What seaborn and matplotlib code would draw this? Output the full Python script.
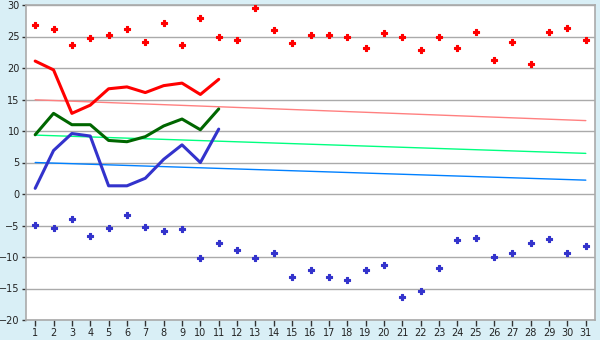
import numpy as np
import pandas as pd
import matplotlib
matplotlib.use("Agg")
import matplotlib.pyplot as plt
import seaborn as sns

days = list(range(1, 32))
max_points = [26.8, 26.2, 23.6, 24.7, 25.2, 26.2, 24.2, 27.2, 23.6, 28.0,
              25.0, 24.5, 29.6, 26.0, 23.9, 25.3, 25.3, 24.9, 23.1, 25.5,
              24.9, 22.8, 25.0, 23.1, 25.7, 21.2, 24.1, 20.7, 25.7, 26.3, 24.5]
min_points = [-4.9, -5.4, -4.0, -6.7, -5.4, -3.4, -5.3, -5.9, -5.6, -10.2,
              -7.7, -8.9, -10.2, -9.4, -13.1, -12.1, -13.2, -13.7, -12.1, -11.3,
              -16.4, -15.4, -11.8, -7.3, -7.0, -10.0, -9.4, -7.7, -7.2, -9.4, -8.3]
line_days = list(range(1, 12))
max_line = [21.1, 19.7, 12.8, 14.1, 16.7, 17.0, 16.1, 17.2, 17.6, 15.8, 18.2]
mean_line = [9.4, 12.8, 11.0, 11.0, 8.5, 8.3, 9.1, 10.8, 11.9, 10.2, 13.5]
min_line = [0.9, 6.9, 9.6, 9.2, 1.3, 1.3, 2.5, 5.5, 7.8, 5.0, 10.3]
trend_days = [1, 31]
trend_max = [14.95, 11.65]
trend_mean = [9.35, 6.45]
trend_min = [5.0, 2.2]
y_ticks = list(range(-20, 31, 5))

sns.set_theme(style="white")
plt.rcParams['font.family'] = ['DejaVu Sans']

bg = '#d9eff6'
fig = plt.figure(figsize=(6, 3.4), dpi=100, facecolor=bg)
ax = fig.add_axes([26/600, 1-320/340, (595-26)/600, (320-5)/340])
ax.set_facecolor('white')

for yv in y_ticks:
    ax.axhline(yv, color='#aaaaaa', lw=1, zorder=0)

sns.lineplot(x=trend_days, y=trend_max, color='#ff8080', lw=1, ax=ax)
sns.lineplot(x=trend_days, y=trend_mean, color='#00ff80', lw=1, ax=ax)
sns.lineplot(x=trend_days, y=trend_min, color='#0080ff', lw=1, ax=ax)

sns.lineplot(x=line_days, y=max_line, color='#ff0000', lw=2.2, ax=ax)
sns.lineplot(x=line_days, y=mean_line, color='#006600', lw=2.2, ax=ax)
sns.lineplot(x=line_days, y=min_line, color='#3333cc', lw=2.2, ax=ax)

sns.scatterplot(x=days, y=max_points, color='#ff0000', marker='P', s=24,
                linewidth=0.8, edgecolor='#ff0000', ax=ax, zorder=5)
sns.scatterplot(x=days, y=min_points, color='#3333cc', marker='P', s=24,
                linewidth=0.8, edgecolor='#3333cc', ax=ax, zorder=5)

ax.set_xlim(0.5, 31.5)
ax.set_ylim(-20, 30)
ax.set_xticks(days)
ax.set_xticklabels([str(d) for d in days])
ax.set_yticks(y_ticks)
for s in ax.spines.values():
    s.set_color('#aaaaaa')
    s.set_linewidth(1.2)
ax.tick_params(axis='both', which='both', length=3, width=1, color='#333333',
               labelsize=7, labelcolor='#222222', pad=1.5, direction='out')
ax.tick_params(axis='x', bottom=True, length=4)
ax.tick_params(axis='y', left=True)
ax.set_xlabel('')
ax.set_ylabel('')

fig.savefig('out.png', dpi=100, facecolor=bg)
